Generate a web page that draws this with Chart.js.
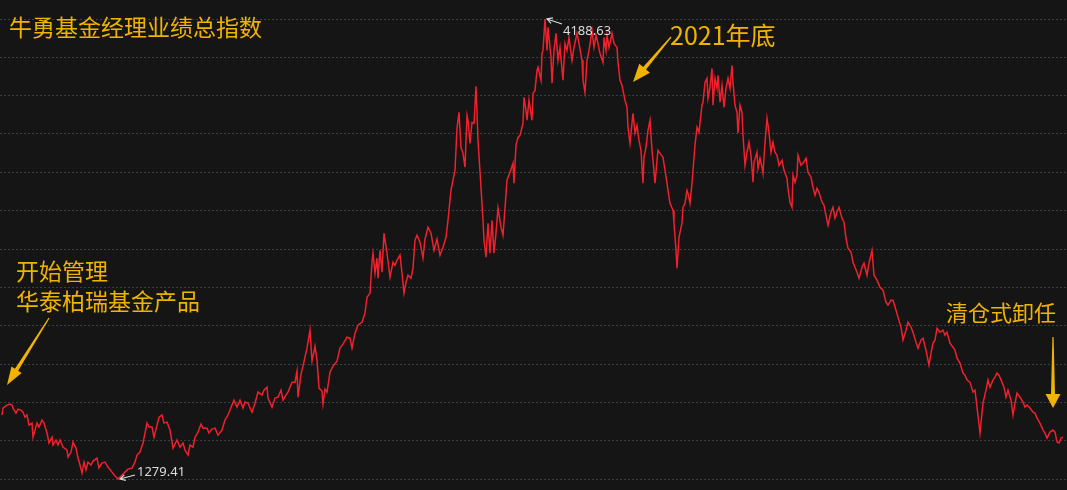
<!DOCTYPE html>
<html lang="zh-CN">
<head>
<meta charset="UTF-8"/>
<title>牛勇基金经理业绩总指数</title>
<script src="https://cdn.jsdelivr.net/npm/chart.js@4.4.1/dist/chart.umd.min.js"></script>
<style>
  html, body { margin: 0; padding: 0; background: #151515; }
  #wrap { width: 1067px; height: 490px; position: relative; }
</style>
</head>
<body>
<div id="wrap"><canvas id="c"></canvas></div>
<script>
  // 交易日序号（横轴）
  const tradingDay = [
    2,3,7,10,12,13,16,18,21,23, 25,27,29,32,33,37,39,42,44,47,
    49,52,53,56,58,60,63,67,68,71, 73,76,78,80,82,84,86,88,91,93,
    97,99,102,105,108,112,115,118,122,125, 128,132,135,137,140,143,145,147,149,152,
    154,157,159,162,164,167,170,173,177,
    180,183,185,188,190,193,195,198,201,203, 207,209,212,215,218,222,225,228,232,234,
    237,240,243,245,248,252,255,258,262,264, 267,268,272,275,278,281,283,286,288,292,
    295,297,298,301,303,307,310,312,315,317, 319,322,323,325,327,330,333,337,340,343,
    347,350,352,355,358,362,365,367,370,
    372,373,375,377,378,380,382,384,387,390, 393,395,397,400,402,404,406,408,411,413,
    415,417,420,423,425,428,431,434,437,440, 443,446,448,451,453,455,457,459,461,463,
    465,467,468,470,472,474,476,478,481,483, 484,486,488,490,492,494,496,498,501,503,
    505,507,510,513,514,516,518,520,523,524, 526,527,529,532,533,535,537,538,541,542,
    543,545,
    547,548,551,552,554,556,558,560,563,565, 567,569,572,574,577,579,582,583,585,587,
    589,592,594,596,598,600,603,604,606,607, 609,612,614,617,618,620,622,623,625,627,
    628,630,632,633,635,637,639,641,643,644, 646,648,650,652,653,655,657,658,660,663,
    665,667,668,670,673,674,676,677,679,682, 683,685,687,688,690,692,693,695,697,699,
    702,703,705,707,708,710,712,713,715,717, 718,720,722,724,726,728,730,732,733,735,
    737,738,740,742,743,745,747,749,751,753, 754,757,758,760,762,763,765,767,769,771,
    773,775,777,779,782,784,787,788,790,792, 793,795,797,798,801,803,806,808,811,813,
    815,817,819,822,824,826,828,831,833,835, 837,839,842,844,846,848,851,853,855,857,
    859,862,864,867,869,872,874,877,
    880,883,886,888,891,893,896,898,901,903, 906,908,911,913,916,918,921,923,926,929,
    931,933,935,937,940,943,945,947,950,953, 955,957,960,963,965,967,970,973,975,977,
    980,982,983,986,988,990,993,995,997,999, 1002,1004,1006,1008,1011,1013,1015,1017,1020,1023,
    1025,1027,1030,1033,1035,1037,1040,1043,1045,1047, 1050,1053,1055,1057,1059,1061,1063
  ];

  // 业绩总指数
  const indexValue = [
    1684,1728,1747,1753,1747,1728,1696,1721,1715,1702, 1671,1684,1620,1633,1544,1633,1608,1652,1633,1570,
    1507,1544,1494,1526,1494,1526,1481,1462,1418,1450, 1513,1475,1412,1368,1317,1386,1336,1386,1368,1393,
    1412,1349,1380,1386,1355,1323,1298,1279.41,1304,1323, 1342,1349,1386,1431,1450,1507,1570,1633,1608,1608,
    1544,1620,1671,1684,1633,1639,1589,1475,1526,
    1481,1507,1462,1431,1494,1481,1544,1576,1627,1601, 1601,1570,1595,1601,1557,1589,1652,1684,1747,1778,
    1734,1778,1728,1766,1759,1702,1759,1829,1810,1841, 1860,1791,1734,1791,1797,1841,1778,1810,1829,1892,
    1892,1962,1797,1943,1993,2107,2221,2025,2120,2031, 1854,1835,1753,1848,1829,1955,1993,2025,2107,2132,
    2176,2170,2107,2202,2252,2271,2328,2429,2455,
    2650,2707,2581,2676,2549,2726,2587,2834,2707,2556, 2650,2631,2663,2695,2581,2455,2524,2568,2549,2612,
    2789,2821,2777,2676,2796,2872,2834,2726,2796,2695, 2745,2808,2916,3105,3169,3232,3497,3598,3377,3339,
    3251,3579,3548,3402,3535,3529,3763,3421,3124,2916, 2789,2682,2897,2707,2916,2707,2834,2992,2872,2821,
    2992,3169,3219,3276,3150,3390,3440,3453,3529,3693, 3611,3548,3674,3548,3718,3737,3864,3883,3801,3971,
    3990,4188.63,
    3990,4136,3946,3782,3990,4098,3927,4009,3801,4034, 3990,4072,3927,4009,4098,4034,3927,3801,3725,3927,
    3990,4117,4009,4085,4034,3971,3914,4072,3990,4085, 4009,4098,4034,4009,3914,3801,3769,3737,3674,3630,
    3504,3402,3529,3592,3466,3516,3421,3358,3150,3314, 3377,3485,3548,3358,3295,3150,3295,3358,3339,3314,
    3232,3150,3105,3023,2979,2897,2726,2612,2808,2897, 2998,3023,3105,3086,3023,3150,3232,3390,3504,3472,
    3643,3662,3788,3813,3687,3756,3876,3643,3813,3750, 3832,3662,3769,3630,3750,3813,3750,3895,3788,3643,
    3598,3466,3643,3598,3453,3263,3346,3409,3327,3156, 3282,3346,3244,3308,3251,3213,3409,3560,3472,3346,
    3409,3346,3327,3263,3295,3232,3181,3118,3030,2998, 3200,3156,3200,3327,3263,3276,3308,3219,3188,3124,
    3074,3118,3093,3030,3011,2947,2884,2966,2998,2928, 2966,2998,2928,2903,2802,2739,2714,2650,2619,2587,
    2549,2619,2644,2568,2644,2726,2568,2537,
    2492,2474,2398,2379,2410,2410,2347,2303,2240,2158, 2221,2271,2240,2208,2145,2107,2158,2170,2094,2000,
    2075,2139,2158,2233,2208,2221,2189,2208,2139,2113, 2094,2044,2012,1949,1936,1905,1892,1829,1841,1734,
    1570,1696,1759,1841,1905,1860,1905,1924,1949,1936, 1892,1860,1797,1841,1778,1684,1759,1823,1797,1766,
    1734,1747,1728,1702,1696,1664,1633,1589,1570,1538, 1576,1589,1576,1513,1507,1538,1544
  ];

  const yMin = 1279.41;
  const yMax = 4188.63;
  const gridSteps = 12;

  const titleText = '牛勇基金经理业绩总指数';
  const startText = ['开始管理', '华泰柏瑞基金产品'];
  const yearEndText = '2021年底';
  const quitText = '清仓式卸任';

  const gold = '#f0b400';
  const cjk = '"Noto Sans CJK SC", "Noto Sans", sans-serif';

  function wedgeArrow(ctx, x1, y1, x2, y2, head, half, w0, w1) {
    const dx = x2 - x1, dy = y2 - y1, len = Math.hypot(dx, dy);
    const ux = dx / len, uy = dy / len, nx = -uy, ny = ux;
    const bx = x2 - ux * head, by = y2 - uy * head;
    ctx.beginPath();
    ctx.moveTo(x1 + nx * w0 / 2, y1 + ny * w0 / 2);
    ctx.lineTo(bx + nx * w1 / 2, by + ny * w1 / 2);
    ctx.lineTo(bx + nx * half, by + ny * half);
    ctx.lineTo(x2, y2);
    ctx.lineTo(bx - nx * half, by - ny * half);
    ctx.lineTo(bx - nx * w1 / 2, by - ny * w1 / 2);
    ctx.lineTo(x1 - nx * w0 / 2, y1 - ny * w0 / 2);
    ctx.closePath();
    ctx.fill();
  }

  function thinArrow(ctx, x1, y1, x2, y2) {
    const a = Math.atan2(y2 - y1, x2 - x1);
    ctx.beginPath();
    ctx.moveTo(x1, y1);
    ctx.lineTo(x2, y2);
    ctx.moveTo(x2 - 6 * Math.cos(a - 0.5), y2 - 6 * Math.sin(a - 0.5));
    ctx.lineTo(x2, y2);
    ctx.lineTo(x2 - 6 * Math.cos(a + 0.5), y2 - 6 * Math.sin(a + 0.5));
    ctx.stroke();
  }

  const notesPlugin = {
    id: 'notes',
    afterDatasetsDraw(chart) {
      const ctx = chart.ctx;
      const xs = chart.scales.x, ys = chart.scales.y;
      ctx.save();

      // 标注文字
      ctx.fillStyle = gold;
      ctx.textBaseline = 'middle';
      ctx.textAlign = 'left';
      ctx.font = '23px ' + cjk;
      ctx.fillText(titleText, 9, 27);
      ctx.fillText(startText[0], 16, 271);
      ctx.fillText(startText[1], 16, 301);
      ctx.font = '22px ' + cjk;
      ctx.fillText(quitText, 946, 313);
      ctx.font = '25px ' + cjk;
      ctx.fillText(yearEndText, 670, 35);

      // 箭头
      wedgeArrow(ctx, 49, 318, 7, 385, 18, 6, 1.2, 3.8);
      wedgeArrow(ctx, 671, 37, 633, 82, 18, 7, 1.2, 3.8);
      wedgeArrow(ctx, 1053, 337, 1053, 408, 14, 7.5, 1.2, 4);

      // 最高 / 最低
      let iMax = 0, iMin = 0;
      indexValue.forEach((v, i) => {
        if (v > indexValue[iMax]) iMax = i;
        if (v < indexValue[iMin]) iMin = i;
      });
      ctx.strokeStyle = '#dcdcdc';
      ctx.fillStyle = '#dcdcdc';
      ctx.lineWidth = 1.2;
      ctx.font = '13px "Noto Sans", sans-serif';

      let px = xs.getPixelForValue(tradingDay[iMax]);
      let py = ys.getPixelForValue(indexValue[iMax]);
      thinArrow(ctx, px + 17, py + 5, px + 2, py);
      ctx.fillText(indexValue[iMax].toFixed(2), px + 18, py + 12);

      px = xs.getPixelForValue(tradingDay[iMin]);
      py = ys.getPixelForValue(indexValue[iMin]);
      thinArrow(ctx, px + 17, py - 4, px + 2, py);
      ctx.fillText(indexValue[iMin].toFixed(2), px + 19, py - 7);

      ctx.restore();
    }
  };

  new Chart(document.getElementById('c'), {
    type: 'line',
    data: {
      datasets: [{
        data: tradingDay.map((d, i) => ({ x: d, y: indexValue[i] })),
        borderColor: '#f0202c',
        borderWidth: 1.5,
        pointRadius: 0,
        tension: 0,
        fill: false,
        clip: 6
      }]
    },
    options: {
      responsive: true,
      maintainAspectRatio: false,
      animation: false,
      layout: { padding: { top: 19, bottom: 11, left: 0, right: 0 } },
      plugins: { legend: { display: false }, tooltip: { enabled: false } },
      scales: {
        x: { type: 'linear', min: 0, max: 1067, display: false },
        y: {
          min: yMin,
          max: yMax,
          ticks: { display: false },
          grid: { color: '#3a3d44', drawTicks: false, lineWidth: 1 },
          border: { display: false, dash: [2, 2] },
          afterBuildTicks: s => {
            s.ticks = Array.from({ length: gridSteps + 1 }, (_, k) => ({ value: yMin + k * (yMax - yMin) / gridSteps }));
          }
        }
      }
    },
    plugins: [notesPlugin]
  });
</script>
</body>
</html>
